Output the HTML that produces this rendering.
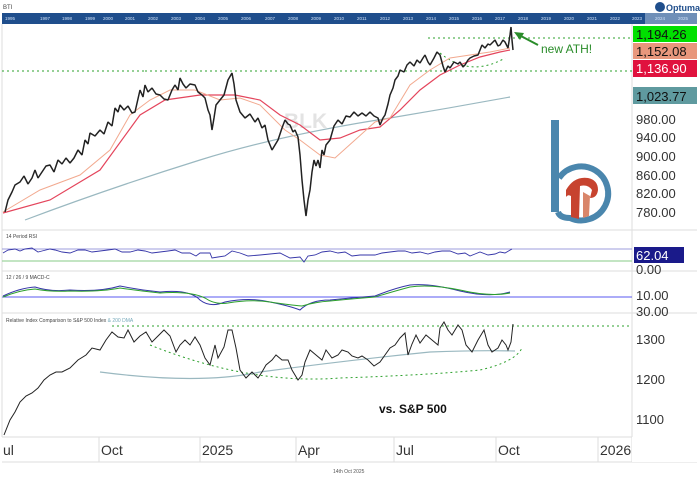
<!DOCTYPE html>
<html><head><meta charset="utf-8"><style>
body{margin:0;background:#fff;}
svg{display:block;font-family:"Liberation Sans","DejaVu Sans",sans-serif;}
</style></head><body>
<svg width="700" height="478" viewBox="0 0 700 478" xmlns="http://www.w3.org/2000/svg">
<rect width="700" height="478" fill="#fff"/>
<text x="3" y="9" font-size="6" fill="#444">BTI</text>
<circle cx="660" cy="7" r="5" fill="#1f4e8c"/>
<text x="666" y="11" font-size="9" font-weight="bold" fill="#1f4e8c">Optuma</text>
<rect x="2" y="13" width="695" height="11" fill="#1f4e8c"/>
<rect x="645" y="13" width="52" height="11" fill="#6f8fb8"/>
<g font-size="4.5" fill="#cfe0f5">
<text x="5" y="20">1995</text><text x="40" y="20">1997</text><text x="62" y="20">1998</text><text x="85" y="20">1999</text><text x="103" y="20">2000</text><text x="125" y="20">2001</text><text x="148" y="20">2002</text><text x="171" y="20">2003</text><text x="195" y="20">2004</text><text x="218" y="20">2005</text><text x="241" y="20">2006</text><text x="265" y="20">2007</text><text x="288" y="20">2008</text><text x="311" y="20">2009</text><text x="334" y="20">2010</text><text x="357" y="20">2011</text><text x="380" y="20">2012</text><text x="403" y="20">2013</text><text x="426" y="20">2014</text><text x="449" y="20">2015</text><text x="472" y="20">2016</text><text x="495" y="20">2017</text><text x="518" y="20">2018</text><text x="541" y="20">2019</text><text x="564" y="20">2020</text><text x="587" y="20">2021</text><text x="610" y="20">2022</text><text x="632" y="20">2023</text><text x="655" y="20">2024</text><text x="678" y="20">2025</text>
</g>
<g stroke="#ddd" fill="none" stroke-width="1">
<line x1="632" y1="24" x2="632" y2="462"/>
<line x1="2" y1="24" x2="2" y2="437"/>
<line x1="2" y1="230" x2="697" y2="230"/>
<line x1="2" y1="271" x2="697" y2="271"/>
<line x1="2" y1="313" x2="697" y2="313"/>
<line x1="2" y1="437" x2="632" y2="437"/>
<line x1="2" y1="462" x2="697" y2="462"/>
<line x1="99" y1="437" x2="99" y2="462"/><line x1="200" y1="437" x2="200" y2="462"/><line x1="296" y1="437" x2="296" y2="462"/><line x1="394" y1="437" x2="394" y2="462"/><line x1="496" y1="437" x2="496" y2="462"/><line x1="598" y1="437" x2="598" y2="462"/>
</g>
<!-- logo -->
<g>
<rect x="551" y="120" width="8" height="92" fill="#4a86ad"/>
<path d="M559 178 A27 27 0 1 1 570 218 Q560 218 558 212" fill="none" stroke="#4a86ad" stroke-width="6"/>
<path d="M566 190 Q574 176 588 178 Q598 180 598 190 Q597 198 590 198 L592 190 Q588 184 580 186 L579 219 L571 217 L571 196 Q568 194 566 197 Z" fill="#c7432f"/>
<path d="M583 192 L590 196 L589 216 L583 218 Z" fill="#d9866a"/>
</g>
<text x="284" y="128" font-size="21" fill="#e3e3e3" font-weight="bold">BLK</text>
<g stroke="#2ca02c" stroke-dasharray="2,3" stroke-width="1" fill="none">
<line x1="428" y1="38" x2="632" y2="38"/>
<line x1="145" y1="71" x2="632" y2="71"/>
<line x1="2" y1="71" x2="145" y2="71" />
<path d="M440 53 Q470 78 505 58"/>
</g>
<!-- 200 DMA -->
<path d="M25 220 Q110 188 200 160 Q280 135 390 118 Q450 108 510 97" fill="none" stroke="#9ab8c0" stroke-width="1.2"/>
<!-- 50 DMA -->
<polyline fill="none" stroke="#e4455c" stroke-width="1.2" points="3,213 50,200 100,170 140,115 165,100 200,95 235,95 260,100 280,115 300,125 320,140 340,138 360,130 380,127 400,110 420,90 440,75 460,65 480,57 500,52 510,50"/>
<!-- 20 DMA -->
<polyline fill="none" stroke="#f2a98f" stroke-width="1" points="3,212 40,190 80,175 110,150 130,115 150,100 170,90 195,90 220,100 240,98 260,105 285,130 300,140 320,155 335,158 355,140 375,122 390,118 410,85 430,70 450,58 470,55 490,52 510,48"/>
<!-- price -->
<polyline fill="none" stroke="#222" stroke-width="1.5" stroke-linejoin="bevel" points="5,212 8,200 12,192 15,185 20,182 24,176 28,184 32,178 35,170 38,178 42,172 46,166 50,165 54,172 58,160 62,164 66,158 70,163 74,158 78,150 82,155 85,140 88,144 90,133 95,136 100,130 104,134 108,122 112,126 115,108 118,112 120,105 124,110 128,106 132,113 135,112 140,90 143,97 145,85 148,92 152,88 156,94 160,95 164,99 168,100 172,90 175,85 178,90 180,78 183,84 186,88 190,84 195,85 198,92 202,95 205,98 208,110 210,115 212,130 214,118 216,105 220,100 224,95 228,80 232,73 234,84 236,100 240,112 245,118 250,114 255,122 258,118 262,128 265,125 268,140 272,150 275,145 278,140 282,128 285,120 288,124 290,125 293,132 295,130 298,137 300,155 302,180 304,200 306,216 308,200 310,190 312,172 314,160 316,166 318,160 320,168 322,150 324,155 326,145 330,140 334,126 338,120 342,124 346,116 350,117 354,112 358,116 362,113 366,116 370,112 374,116 378,118 380,125 383,118 385,115 388,104 390,95 393,88 395,80 398,76 400,70 404,72 407,65 410,62 414,66 417,60 420,63 423,58 425,55 428,62 430,65 434,58 437,52 440,55 443,66 445,72 448,66 450,68 454,62 458,64 460,62 463,67 465,65 468,60 470,58 474,56 478,55 480,50 482,45 485,48 488,44 490,45 493,42 495,40 498,46 500,45 503,40 505,42 508,48 510,35 511,27 512,40 513,50"/>
<line x1="538" y1="45" x2="519" y2="35" stroke="#2a8c2a" stroke-width="2"/>
<polygon points="514,32 524,33 520,40" fill="#2a8c2a"/>
<text x="541" y="53" font-size="12" fill="#2a8c2a">new ATH!</text>
<rect x="633" y="26" width="64" height="16" fill="#00e000"/><text x="636" y="39" font-size="13" fill="#111">1,194.26</text>
<rect x="633" y="43" width="64" height="16" fill="#e8977c"/><text x="636" y="56" font-size="13" fill="#111">1,152.08</text>
<rect x="633" y="60" width="64" height="17" fill="#e0123e"/><text x="636" y="73" font-size="13" fill="#fff">1,136.90</text>
<rect x="633" y="87" width="64" height="17" fill="#5f9a9f"/><text x="636" y="101" font-size="13" fill="#111">1,023.77</text>
<g font-size="13" fill="#333">
<text x="636" y="124">980.00</text><text x="636" y="142">940.00</text><text x="636" y="161">900.00</text><text x="636" y="180">860.00</text><text x="636" y="198">820.00</text><text x="636" y="217">780.00</text>
</g>
<text x="6" y="238" font-size="5" fill="#444">14 Period RSI</text>
<line x1="2" y1="249" x2="632" y2="249" stroke="#9c9cdc" stroke-width="1"/>
<line x1="2" y1="261" x2="632" y2="261" stroke="#9fd59f" stroke-width="1.2"/>
<polyline fill="none" stroke="#3636a8" stroke-width="0.9" points="3,253 8,250 15,249 20,251 25,249 32,248 38,252 42,251 50,249 55,250 62,252 70,253 78,250 85,250 92,252 100,251 108,250 115,249 122,252 130,252 138,250 145,251 152,253 160,252 168,251 175,250 182,253 190,253 196,256 200,253 210,253 212,258 218,257 225,256 232,251 240,253 248,256 260,255 270,254 280,253 290,258 300,257 304,262 308,256 315,255 322,252 330,251 338,253 345,252 352,256 360,255 368,255 375,255 382,253 390,252 398,251 405,251 412,253 420,252 428,254 435,252 442,251 450,251 458,254 465,253 470,256 475,254 480,252 488,255 495,254 500,252 505,253 512,249"/>
<rect x="634" y="247" width="50" height="16" fill="#1a1a8a"/><text x="636" y="260" font-size="13" fill="#fff">62.04</text>
<text x="636" y="274" font-size="13" fill="#333">0.00</text>
<text x="6" y="279" font-size="5" fill="#444">12 / 26 / 9 MACD-C</text>
<line x1="2" y1="297" x2="632" y2="297" stroke="#5a5af0" stroke-width="1"/>
<path d="M3 296 Q20 288 35 287 Q50 292 70 290 Q100 292 120 286 Q140 290 160 292 Q190 289 200 300 Q210 308 225 302 Q250 297 270 302 Q290 306 300 310 Q310 300 330 300 Q350 298 375 296 Q395 288 410 285 Q430 283 460 291 Q490 298 510 292" fill="none" stroke="#3636a8" stroke-width="1"/>
<path d="M3 297 Q20 290 35 289 Q50 292 70 291 Q100 292 120 288 Q140 291 160 293 Q190 291 205 298 Q215 305 228 303 Q250 299 270 302 Q290 305 302 306 Q315 302 330 301 Q350 299 375 297 Q395 291 410 287 Q430 284 460 290 Q490 297 510 293" fill="none" stroke="#2ca02c" stroke-width="1"/>
<text x="636" y="300" font-size="13" fill="#333">10.00</text>
<text x="636" y="316" font-size="13" fill="#333">30.00</text>
<text x="6" y="322" font-size="5" fill="#444">Relative Index Comparison to S&amp;P 500 Index <tspan fill="#7ab">&amp; 200 DMA</tspan></text>
<line x1="112" y1="326" x2="632" y2="326" stroke="#2ca02c" stroke-dasharray="2,3"/>
<path d="M150 345 Q250 385 340 378 Q430 375 480 370 Q515 362 522 348" fill="none" stroke="#2ca02c" stroke-dasharray="2,3"/>
<path d="M100 372 Q200 385 260 372 Q350 360 430 352 Q480 350 515 351" fill="none" stroke="#9ab8c0" stroke-width="1.2"/>
<polyline fill="none" stroke="#222" stroke-width="1" points="4,435 10,420 15,412 20,402 26,396 32,393 38,388 44,380 50,375 56,372 62,372 70,368 78,360 86,355 92,348 100,350 106,340 112,332 118,337 124,338 128,330 134,342 140,336 146,332 152,342 158,336 164,330 170,336 176,352 180,345 185,340 190,345 195,337 200,345 205,358 210,365 215,345 218,358 224,347 228,330 232,330 236,348 240,370 246,378 252,372 258,378 262,372 266,365 272,360 276,355 282,360 288,360 292,370 298,380 302,375 305,362 310,350 316,355 322,360 326,350 332,358 338,355 342,350 348,352 352,356 358,358 362,356 368,360 374,366 380,362 385,355 390,348 395,345 400,338 405,333 408,355 412,344 416,335 420,343 426,335 432,340 438,345 440,328 444,322 448,330 452,335 458,325 462,330 466,345 472,352 478,340 484,330 488,345 492,352 498,348 502,340 506,345 508,350 511,342 513,324"/>
<text x="379" y="413" font-size="12" font-weight="bold" fill="#111">vs. S&amp;P 500</text>
<g font-size="13" fill="#333"><text x="636" y="344">1300</text><text x="636" y="384">1200</text><text x="636" y="424">1100</text></g>
<g font-size="14" fill="#333">
<text x="3" y="455">ul</text><text x="101" y="455">Oct</text><text x="202" y="455">2025</text><text x="298" y="455">Apr</text><text x="396" y="455">Jul</text><text x="498" y="455">Oct</text><text x="600" y="455">2026</text>
</g>
<rect x="632" y="437" width="68" height="25" fill="#fff"/>
<text x="333" y="473" font-size="5" fill="#555">14th Oct 2025</text>
</svg>
</body></html>
